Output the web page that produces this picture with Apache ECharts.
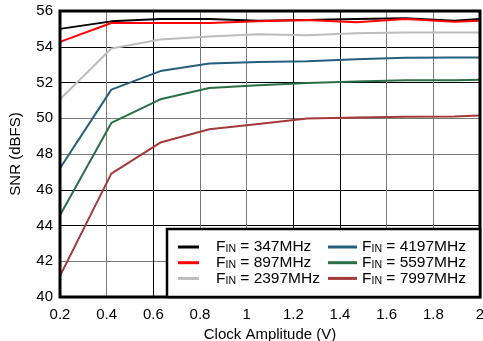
<!DOCTYPE html>
<html>
<head>
<meta charset="utf-8">
<script src="https://cdn.jsdelivr.net/npm/echarts@6/dist/echarts.min.js"></script>
<style>html,body{margin:0;padding:0;background:#fff;}#c{width:483px;height:341px;}</style>
</head>
<body>
<div id="c"></div>
<script>
// Data
var clockAmplitude = [0.2, 0.42, 0.63, 0.84, 1.05, 1.26, 1.47, 1.68, 1.89, 2.0];
var snr347  = [55.0, 55.42, 55.55, 55.55, 55.45, 55.5, 55.55, 55.6, 55.45, 55.55];
var snr897  = [54.27, 55.33, 55.33, 55.33, 55.42, 55.5, 55.37, 55.55, 55.4, 55.45];
var snr2397 = [51.06, 53.9, 54.4, 54.58, 54.7, 54.64, 54.75, 54.8, 54.8, 54.8];
var snr4197 = [47.2, 51.6, 52.64, 53.06, 53.15, 53.19, 53.3, 53.39, 53.4, 53.4];
var snr5597 = [44.57, 49.74, 51.06, 51.69, 51.84, 51.97, 52.05, 52.12, 52.13, 52.15];
var snr7997 = [41.18, 46.9, 48.64, 49.38, 49.68, 49.98, 50.04, 50.08, 50.1, 50.15];
var seriesNames = ['347MHz', '897MHz', '2397MHz', '4197MHz', '5597MHz', '7997MHz'];
var xTicks = [0.2, 0.4, 0.6, 0.8, 1, 1.2, 1.4, 1.6, 1.8, 2];
var yTicks = [40, 42, 44, 46, 48, 50, 52, 54, 56];

var allData = [snr347, snr897, snr2397, snr4197, snr5597, snr7997];
var colors = ['#000000', '#ff0000', '#bdbdbd', '#245f7e', '#2a6e48', '#a23a3a'];

function pairs(ys) { return clockAmplitude.map(function (x, i) { return [x, ys[i]]; }); }

var series = allData.map(function (d, i) {
  return {
    name: seriesNames[i], type: 'line', data: pairs(d), symbol: 'none',
    lineStyle: { color: colors[i], width: 2 }, itemStyle: { color: colors[i] },
    z: 2 + i * 0.01
  };
});

var rich = {
  g: { width: 12, fontSize: 15.5, lineHeight: 16 },
  f: { fontSize: 15.5, fontFamily: 'Liberation Sans', color: '#000', lineHeight: 16 },
  s: { fontSize: 10.5, fontFamily: 'Liberation Sans', color: '#000', lineHeight: 10, verticalAlign: 'bottom', padding: [6, 0, 0, 0] }
};
function legFmt(pad) {
  return function (name) { return (pad ? '{g|}' : '') + '{f|F}{s|IN}{f| = ' + name + '}'; };
}

var chart = echarts.init(document.getElementById('c'), null, { renderer: 'canvas' });
chart.setOption({
  animation: false,
  backgroundColor: '#fff',
  grid: { left: 60, right: 3, top: 11, bottom: 44, show: true, borderColor: '#000', borderWidth: 3, backgroundColor: 'transparent', z: 3, containLabel: false, outerBoundsMode: 'none' },
  xAxis: {
    type: 'value', min: xTicks[0], max: xTicks[xTicks.length - 1], interval: 0.2,
    axisLine: { show: false }, axisTick: { show: false },
    axisLabel: { fontSize: 15, fontFamily: 'Liberation Sans', color: '#000', margin: 10 },
    splitLine: { show: true, lineStyle: { width: 1, color: ['#000', '#7a7a7a', '#000', '#7a7a7a', '#7a7a7a', '#000', '#000', '#7a7a7a', '#7a7a7a', '#000'] } },
    name: 'Clock Amplitude (V)', nameLocation: 'middle', nameGap: 26,
    nameTextStyle: { fontSize: 15, fontFamily: 'Liberation Sans', color: '#000' }
  },
  yAxis: {
    type: 'value', min: yTicks[0], max: yTicks[yTicks.length - 1], interval: 2,
    axisLine: { show: false }, axisTick: { show: false },
    axisLabel: { fontSize: 15, fontFamily: 'Liberation Sans', color: '#000', margin: 7 },
    splitLine: { show: true, lineStyle: { width: 1, color: ['#000', '#7a7a7a', '#000', '#000', '#7a7a7a', '#7a7a7a', '#000', '#000', '#000'] } },
    name: 'SNR (dBFS)', nameLocation: 'middle', nameGap: 37, nameRotate: 90,
    nameTextStyle: { fontSize: 15, fontFamily: 'Liberation Sans', color: '#000' }
  },
  graphic: [{
    type: 'rect', z: 50, shape: { x: 167, y: 229, width: 313, height: 68 },
    style: { fill: '#fff', stroke: '#000', lineWidth: 2.5 }
  }],
  legend: [{
    data: seriesNames.slice(0, 3), orient: 'vertical', left: 178, top: 238,
    itemWidth: 21, itemHeight: 3, itemGap: -1.3, icon: 'rect', padding: 0, z: 60,
    formatter: legFmt(true), textStyle: { rich: rich, fontSize: 15 }
  }, {
    data: seriesNames.slice(3), orient: 'vertical', left: 328, top: 238,
    itemWidth: 29, itemHeight: 3, itemGap: -1.3, icon: 'rect', padding: 0, z: 60,
    formatter: legFmt(false), textStyle: { rich: rich, fontSize: 15 }
  }],
  series: series
});
</script>
</body>
</html>
